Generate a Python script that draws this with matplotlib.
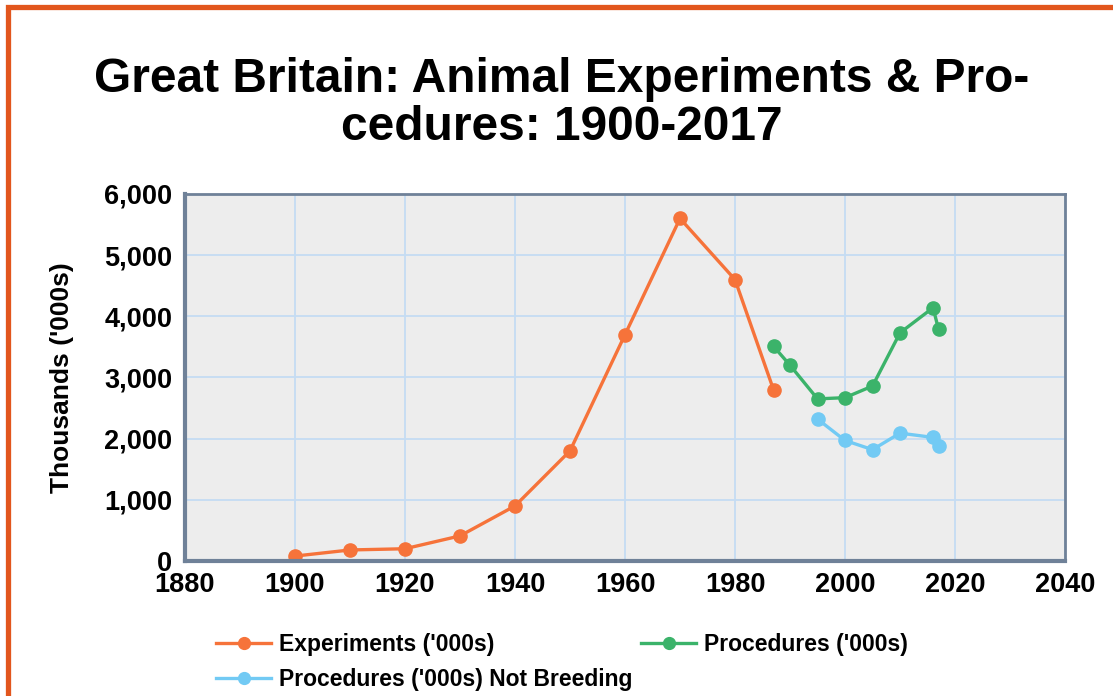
"""Line chart of animal experiments and procedures in Great Britain, 1900-2017."""
import matplotlib

matplotlib.use("Agg")
import matplotlib.pyplot as plt
from matplotlib.patches import Rectangle
from matplotlib.ticker import FuncFormatter, MultipleLocator

# Data (thousands)
EXP_YEARS = [1900, 1910, 1920, 1930, 1940, 1950, 1960, 1970, 1980, 1987]
EXP_VALUES = [80, 180, 200, 410, 900, 1800, 3700, 5600, 4600, 2800]

PROC_YEARS = [1987, 1990, 1995, 2000, 2005, 2010, 2016, 2017]
PROC_VALUES = [3510, 3200, 2650, 2670, 2860, 3730, 4140, 3790]

NB_YEARS = [1995, 2000, 2005, 2010, 2016, 2017]
NB_VALUES = [2320, 1970, 1820, 2090, 2020, 1880]

ORANGE = "#F6733A"
GREEN = "#3BB36A"
BLUE = "#72CAF4"
SPINE = "#6F8198"
GRID = "#C5DCF3"
FRAME = "#E2561D"

plt.rcParams["font.family"] = ["Liberation Sans", "DejaVu Sans"]

fig = plt.figure(figsize=(11.13, 6.96), dpi=100)
# orange frame, cut off on the right and bottom edges
fig.patches.append(
    Rectangle((0.0068, -0.1), 1.1, 1.09, transform=fig.transFigure,
              fill=False, edgecolor=FRAME, linewidth=3.8)
)

ax = fig.add_axes([0.1662, 0.194, 0.7907, 0.5273])
ax.set_facecolor("#EDEDED")

style = dict(linewidth=2.4, marker="o", markersize=9.5)
h_exp, = ax.plot(EXP_YEARS, EXP_VALUES, color=ORANGE, label="Experiments ('000s)", **style)
h_proc, = ax.plot(PROC_YEARS, PROC_VALUES, color=GREEN, label="Procedures ('000s)", **style)
h_nb, = ax.plot(NB_YEARS, NB_VALUES, color=BLUE,
                label="Procedures ('000s) Not Breeding", **style)

ax.set_xlim(1880, 2040)
ax.set_ylim(0, 6000)
ax.xaxis.set_major_locator(MultipleLocator(20))
ax.yaxis.set_major_locator(MultipleLocator(1000))
ax.yaxis.set_major_formatter(FuncFormatter(lambda v, _: f"{int(v):,}"))
ax.grid(True, color=GRID, linewidth=1.3)
ax.set_axisbelow(True)
ax.tick_params(length=0, labelsize=19.5)
ax.tick_params(axis="x", pad=8)
ax.tick_params(axis="y", pad=9)
for lab in ax.get_xticklabels() + ax.get_yticklabels():
    lab.set_fontweight("bold")

for side in ("left", "bottom"):
    ax.spines[side].set_linewidth(3)
    ax.spines[side].set_color(SPINE)
for side in ("top", "right"):
    ax.spines[side].set_linewidth(2)
    ax.spines[side].set_color(SPINE)

ax.set_ylabel("Thousands ('000s)", fontsize=19, fontweight="bold", labelpad=22)

fig.text(0.505, 0.851, "Great Britain: Animal Experiments & Pro-\ncedures: 1900-2017",
         ha="center", va="center", fontsize=34.5, fontweight="bold",
         linespacing=1.1)

leg_kw = dict(
    loc="upper left", frameon=False, borderpad=0,
    prop={"size": 16.5, "weight": "bold"}, handlelength=2.4, handletextpad=0.35,
    labelspacing=0.5,
)
leg_top = 1 - 622 / 696
leg_left = fig.legend(handles=[h_exp, h_nb], bbox_to_anchor=(205 / 1113, leg_top), **leg_kw)
leg_right = fig.legend(handles=[h_proc], bbox_to_anchor=(630 / 1113, leg_top), **leg_kw)
for leg in (leg_left, leg_right):
    for line in leg.get_lines():
        line.set_markersize(8.5)

fig.savefig("out.png", dpi=100)
